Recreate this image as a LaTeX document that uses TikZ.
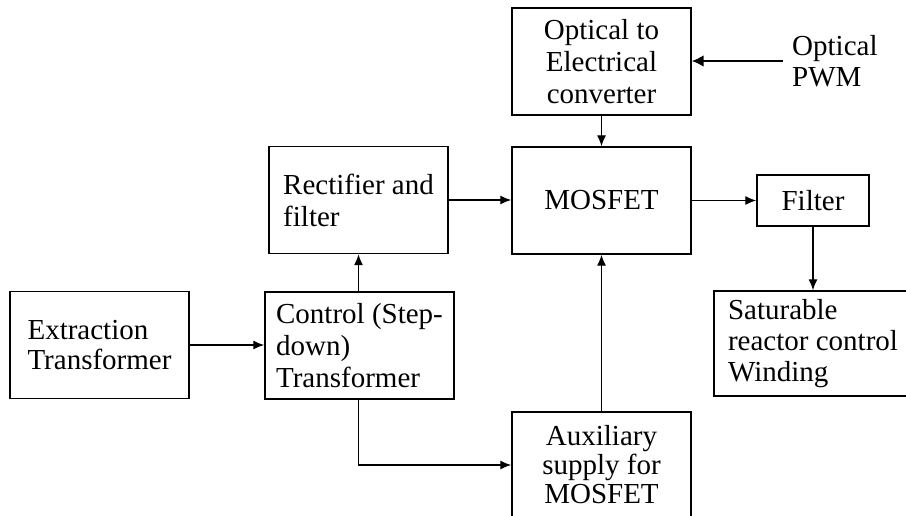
\documentclass[tikz,border=0pt]{standalone}
\usepackage{fontspec}
\setmainfont{Liberation Serif}
\usetikzlibrary{arrows.meta}
\tikzset{
  box/.style={draw, line width=1.4pt, rectangle, inner sep=0pt,
    minimum width=179pt, minimum height=107pt,
    font=\fontsize{29}{32}\selectfont},
  conn/.style={line width=1.3pt, -{Latex[length=11pt,width=9pt]}},
  thickconn/.style={line width=2.8pt, -{Latex[length=12pt,width=12pt]}},
}
\begin{document}
\begin{tikzpicture}[x=1pt,y=-1pt]
\useasboundingbox (0,0) rectangle (906,516);
\clip (0,0) rectangle (906,516);
\fill[white] (0,0) rectangle (906,516);
% boxes
\node[box, align=center] (opt) at (601.5,61.5) {Optical to\\Electrical\\converter};
\node[box, align=center] (mos) at (601.5,200.5) {MOSFET};
\node[box, align=left] (rect) at (358.5,200) {Rectifier and\\filter};
\node[box, align=center, minimum width=112pt, minimum height=51pt] (filt) at (813,200.5) {Filter};
\node[box, align=left, font=\fontsize{29}{30}\selectfont] (ext) at (99.5,345) {Extraction\\Transformer};
\node[box, align=left, minimum width=189pt] (ctrl) at (359.5,345.5) {Control (Step-\\down)\\Transformer};
\node[box, align=center, minimum height=106pt, font=\fontsize{29}{29}\selectfont] (aux) at (601.5,465) {Auxiliary\\supply for\\MOSFET};
\node[box, align=left, minimum width=198pt, minimum height=105pt, font=\fontsize{29}{31}\selectfont] (sat) at (813,343.5) {Saturable\\reactor control\\Winding};
\node[anchor=west, inner xsep=9pt, inner ysep=0pt, align=left, font=\fontsize{29}{31}\selectfont] (pwm) at (783,61) {Optical\\PWM};
% connectors
\draw[thickconn] (pwm.west) -- (opt.east |- pwm.west);
\draw[conn] (opt.south) -- (mos.north);
\draw[conn] (rect.east) -- (rect.east -| mos.west);
\draw[conn] (mos.east |- filt.west) -- (filt.west);
\draw[conn] (filt.south) -- (sat.north);
\draw[conn] (ext.east) -- (ext.east -| ctrl.west);
\draw[conn] (ctrl.north -| rect.south) -- (rect.south);
\draw[conn] (ctrl.south -| rect.south) |- (aux.west);
\draw[conn] (aux.north) -- (mos.south);
\end{tikzpicture}
\end{document}
